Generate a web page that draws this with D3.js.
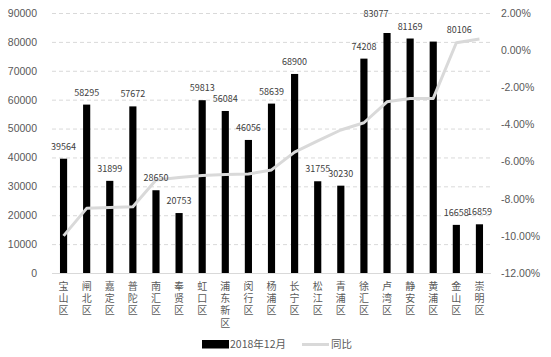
<!DOCTYPE html>
<html><head><meta charset="utf-8">
<script src="https://cdn.jsdelivr.net/npm/d3@7/dist/d3.min.js"></script>
<style>
body{margin:0;background:#fff;}
svg{font-family:"Noto Sans CJK SC","Noto Sans",sans-serif;}
</style></head>
<body>
<svg id="chart" width="551" height="357"></svg>
<script>
const categories = ["宝山区","闸北区","嘉定区","普陀区","南汇区","奉贤区","虹口区","浦东新区","闵行区","杨浦区","长宁区","松江区","青浦区","徐汇区","卢湾区","静安区","黄浦区","金山区","崇明区"];
const values = [39564,58295,31899,57672,28650,20753,59813,56084,46056,58639,68900,31755,30230,74208,83077,81169,80106,16658,16859];
const yoy = [-10.0,-8.52,-8.47,-8.43,-6.99,-6.86,-6.75,-6.69,-6.67,-6.45,-5.49,-4.89,-4.3,-3.91,-2.78,-2.6,-2.6,0.4,0.6];
const leftTicks = [0,10000,20000,30000,40000,50000,60000,70000,80000,90000];
const rightTicks = [-12,-10,-8,-6,-4,-2,0,2];
const seriesNames = ["2018年12月","同比"];

const svg = d3.select("#chart");
const pL = 52, pR = 491, pT = 13, pB = 273;

const x = d3.scaleBand().domain(categories).range([pL, pR]).paddingInner(0.69).paddingOuter(0.345);
const y = d3.scaleLinear().domain([0, 90000]).range([pB, pT]);
const y2 = d3.scaleLinear().domain([-12, 2]).range([pB, pT]);

// gridlines
svg.append("g").selectAll("line").data(leftTicks.filter(d => d > 0)).join("line")
  .attr("x1", pL).attr("x2", pR)
  .attr("y1", d => y(d) + 0.5).attr("y2", d => y(d) + 0.5)
  .attr("stroke", "#d9d9d9").attr("stroke-dasharray", "4,3").attr("stroke-width", 1);

// left axis
const gl = svg.append("g").attr("transform", `translate(${pL},0)`)
  .call(d3.axisLeft(y).tickValues(leftTicks).tickSize(0).tickPadding(15).tickFormat(d3.format("d")));
gl.select(".domain").remove();
gl.selectAll("text").attr("fill", "#595959").attr("font-size", "10.5px");

// right axis
const gr = svg.append("g").attr("transform", `translate(${pR},0)`)
  .call(d3.axisRight(y2).tickValues(rightTicks).tickSize(0).tickPadding(10).tickFormat(d => (d < 0 ? "-" : "") + Math.abs(d).toFixed(2) + "%"));
gr.select(".domain").remove();
gr.selectAll("text").attr("fill", "#595959").attr("font-size", "10.5px");

// bars
svg.append("g").selectAll("rect").data(values).join("rect")
  .attr("x", (d, i) => x(categories[i]))
  .attr("width", x.bandwidth())
  .attr("y", d => y(d))
  .attr("height", d => pB - y(d))
  .attr("fill", "#000");

// baseline
svg.append("line").attr("x1", pL).attr("x2", pR).attr("y1", pB + 0.5).attr("y2", pB + 0.5)
  .attr("stroke", "#d9d9d9").attr("stroke-width", 1);

// line
const line = d3.line().x((d, i) => x(categories[i]) + x.bandwidth() / 2).y(d => y2(d));
svg.append("path").datum(yoy).attr("d", line)
  .attr("fill", "none").attr("stroke", "#d9d9d9").attr("stroke-width", 3).attr("stroke-linejoin", "round");

// data labels (a couple are nudged as in the original)
const nudge = {"卢湾区": [-11, -7], "黄浦区": [26, 0]};
svg.append("g").selectAll("text").data(values).join("text")
  .attr("x", (d, i) => x(categories[i]) + x.bandwidth() / 2 + (nudge[categories[i]] ? nudge[categories[i]][0] : 0))
  .attr("y", (d, i) => y(d) - 9 + (nudge[categories[i]] ? nudge[categories[i]][1] : 0))
  .attr("text-anchor", "middle").attr("font-size", "9px").attr("fill", "#404040")
  .text(d => d);

// x labels vertical (stacked characters)
svg.append("g").selectAll("text").data(categories).join("text")
  .attr("x", d => x(d) + x.bandwidth() / 2)
  .attr("y", 281)
  .attr("font-size", "10px").attr("fill", "#595959")
  .style("writing-mode", "vertical-rl")
  .style("text-orientation", "upright")
  .style("letter-spacing", "2.3px")
  .text(d => d);

// legend
svg.append("rect").attr("x", 202).attr("y", 340).attr("width", 27).attr("height", 8.5).attr("fill", "#000");
svg.append("text").attr("x", 230).attr("y", 347.5).attr("font-size", "10.5px").attr("fill", "#595959").text(seriesNames[0]);
svg.append("line").attr("x1", 302).attr("x2", 329).attr("y1", 344.5).attr("y2", 344.5)
  .attr("stroke", "#d9d9d9").attr("stroke-width", 3);
svg.append("text").attr("x", 331).attr("y", 347.5).attr("font-size", "10.5px").attr("fill", "#595959").text(seriesNames[1]);
</script>
</body></html>
